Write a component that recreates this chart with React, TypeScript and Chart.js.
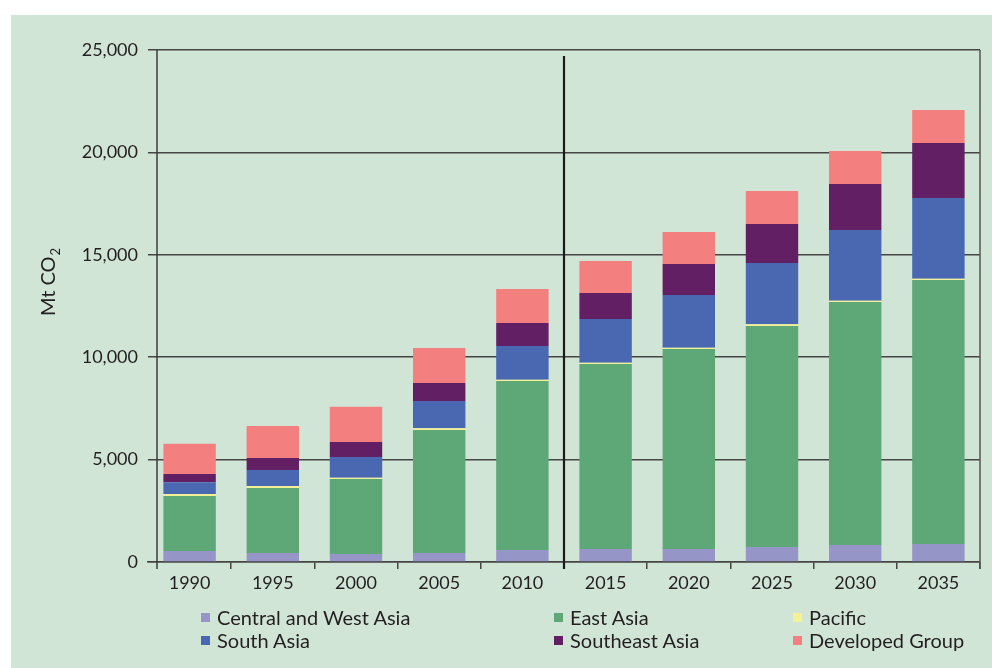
import React, { useEffect, useRef } from "react";
import { Chart, registerables } from "chart.js";

Chart.register(...registerables);

const categories = ["1990", "1995", "2000", "2005", "2010", "2015", "2020", "2025", "2030", "2035"];
const centralWestAsia = [540, 440, 390, 440, 590, 630, 630, 730, 830, 880];
const eastAsia = [2680, 3170, 3660, 6010, 8250, 9040, 9770, 10790, 11870, 12890];
const pacific = [100, 100, 60, 80, 60, 60, 60, 90, 60, 60];
const southAsia = [580, 780, 1020, 1330, 1650, 2130, 2580, 2990, 3450, 3940];
const southeastAsia = [400, 590, 730, 880, 1120, 1270, 1510, 1900, 2250, 2690];
const developedGroup = [1470, 1560, 1720, 1710, 1660, 1570, 1560, 1620, 1610, 1610];
const yTicks = [0, 5000, 10000, 15000, 20000, 25000];

const seriesNames = ["Central and West Asia", "East Asia", "Pacific", "South Asia", "Southeast Asia", "Developed Group"];
const seriesColors = ["#9595c7", "#5ea877", "#f4f096", "#4a68b1", "#621f63", "#f47f7f"];
const seriesData = [centralWestAsia, eastAsia, pacific, southAsia, southeastAsia, developedGroup];

// legend order: row 1 then row 2
const legendOrder = [0, 1, 2, 3, 4, 5];
const legendCols = [201, 554, 793];
const legendRows = [617, 640];

const FONT = "Lato, 'Open Sans', sans-serif";
const GRID = "#454545";
const TEXT = "#231f20";

const extras = {
  id: "extras",
  afterDatasetsDraw(chart: any) {
    const { ctx, chartArea, scales } = chart;
    const x = scales.x;
    ctx.save();
    // y axis line
    ctx.strokeStyle = "#3a3a3a";
    ctx.lineWidth = 1.5;
    ctx.beginPath();
    ctx.moveTo(157, chartArea.top);
    ctx.lineTo(157, chartArea.bottom + 7);
    ctx.stroke();
    // right border
    ctx.strokeStyle = "#555";
    ctx.beginPath();
    ctx.moveTo(chartArea.right, chartArea.top);
    ctx.lineTo(chartArea.right, chartArea.bottom + 7);
    ctx.stroke();
    // separator between history and projection
    const sepX = (x.getPixelForValue(4) + x.getPixelForValue(5)) / 2;
    ctx.strokeStyle = "#1a1a1a";
    ctx.lineWidth = 2.2;
    ctx.beginPath();
    ctx.moveTo(sepX, chartArea.top + 6);
    ctx.lineTo(sepX, chartArea.bottom + 7);
    ctx.stroke();
    ctx.restore();
  },
  afterDraw(chart: any) {
    const { ctx } = chart;
    ctx.save();
    ctx.fillStyle = TEXT;
    const main = "Mt CO";
    ctx.font = `20px ${FONT}`;
    const w1 = ctx.measureText(main).width;
    ctx.font = `13px ${FONT}`;
    const w2 = ctx.measureText("2").width;
    const total = w1 + 1 + w2;
    ctx.translate(55, 282 + total / 2);
    ctx.rotate(-Math.PI / 2);
    ctx.textBaseline = "alphabetic";
    ctx.textAlign = "left";
    ctx.font = `20px ${FONT}`;
    ctx.fillText(main, 0, 0);
    ctx.font = `13px ${FONT}`;
    ctx.fillText("2", w1 + 1, 5);
    ctx.restore();
  },
};

export default function App() {
  const ref = useRef<HTMLCanvasElement | null>(null);

  useEffect(() => {
    if (!ref.current) return;
    const chart = new Chart(ref.current, {
      type: "bar",
      data: {
        labels: categories,
        datasets: seriesData.map((d, i) => ({
          label: seriesNames[i],
          data: d,
          backgroundColor: seriesColors[i],
          borderWidth: 0,
          barPercentage: 0.63,
          categoryPercentage: 1,
        })),
      },
      options: {
        animation: false,
        responsive: false,
        maintainAspectRatio: false,
        layout: { padding: { left: 0, right: 12, top: 50, bottom: 0 } },
        plugins: {
          legend: { display: false },
          tooltip: { enabled: false },
          title: { display: false },
        },
        scales: {
          x: {
            stacked: true,
            offset: true,
            afterFit: (s: any) => {
              s.height = 106;
            },
            grid: {
              offset: true,
              drawOnChartArea: false,
              drawTicks: true,
              tickLength: 7,
              lineWidth: 1.5,
              color: (c: any) => (c.index === 0 || c.index === 10 ? "rgba(0,0,0,0)" : GRID),
            },
            border: { display: true, color: GRID, width: 1.5 },
            ticks: {
              color: TEXT,
              font: { family: FONT, size: 18 },
              padding: 3,
              maxRotation: 0,
            },
          },
          y: {
            stacked: true,
            min: 0,
            max: 25000,
            afterFit: (s: any) => {
              s.width = 148;
            },
            afterBuildTicks: (s: any) => {
              s.ticks = yTicks.map((v) => ({ value: v }));
            },
            grid: {
              drawTicks: false,
              lineWidth: 1.5,
              color: GRID,
            },
            border: { display: false },
            ticks: {
              color: TEXT,
              font: { family: FONT, size: 18 },
              padding: 10,
              callback: (v: any) => Number(v).toLocaleString("en-US"),
            },
          },
        },
      },
      plugins: [extras],
    });
    return () => chart.destroy();
  }, []);

  return (
    <div style={{ position: "absolute", left: 0, top: 0, width: 992, height: 668, background: "#ffffff", overflow: "hidden" }}>
      <div style={{ position: "absolute", left: 11, top: 15, width: 981, height: 653, background: "#d1e5d7" }} />
      <canvas ref={ref} width={992} height={668} style={{ position: "absolute", left: 0, top: 0, width: 992, height: 668 }} />
      {legendOrder.map((si, k) => {
        const col = k % 3;
        const row = Math.floor(k / 3);
        return (
          <div
            key={si}
            style={{
              position: "absolute",
              left: legendCols[col],
              top: legendRows[row] - 12,
              height: 24,
              display: "flex",
              alignItems: "center",
              fontFamily: FONT,
              fontSize: 20,
              color: TEXT,
              whiteSpace: "nowrap",
            }}
          >
            <span style={{ display: "inline-block", width: 9, height: 9, background: seriesColors[si], marginRight: 7 }} />
            <span>{seriesNames[si]}</span>
          </div>
        );
      })}
    </div>
  );
}
